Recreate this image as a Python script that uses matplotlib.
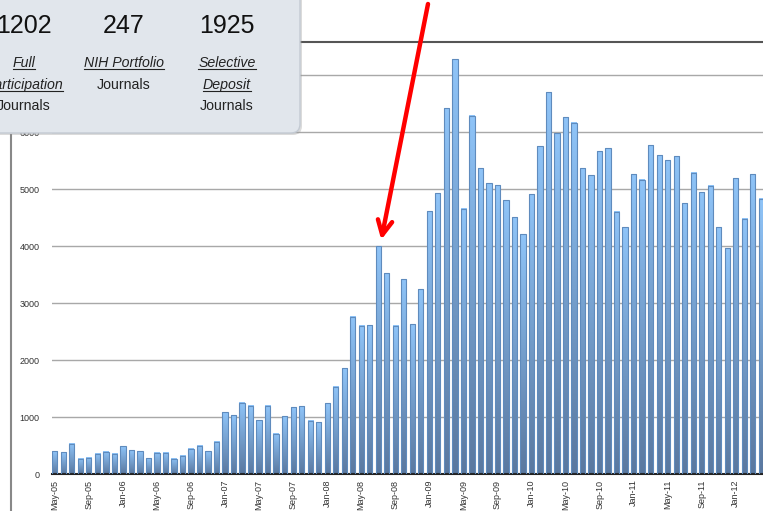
import matplotlib
matplotlib.use('Agg')
import matplotlib.pyplot as plt
import numpy as np
import pandas as pd
from matplotlib.colors import LinearSegmentedColormap
from matplotlib.patches import FancyBboxPatch
from matplotlib.lines import Line2D
from matplotlib.transforms import IdentityTransform

plt.rcParams['font.family'] = ['Liberation Sans', 'DejaVu Sans']

# monthly counts, May-05 .. Apr-12
months = pd.period_range('2005-05', '2012-04', freq='M').strftime('%b-%y').tolist()
counts = [
    400, 382, 535, 265, 282, 353, 388, 353,
    488, 418, 400, 276, 370, 370, 265, 318, 441, 494, 400, 565,
    1085, 1035, 1250, 1200, 942, 1196, 710, 1015, 1167, 1185, 938, 909,
    1243, 1531, 1853, 2762, 2598, 2610, 3994, 3525, 2598, 3413, 2628, 3245,
    4610, 4930, 6421, 7281, 4650, 6287, 5363, 5099, 5070, 4801, 4509, 4205,
    4906, 5754, 6696, 5977, 6257, 6164, 5363, 5240, 5661, 5713, 4602, 4327,
    5257, 5164, 5766, 5591, 5509, 5573, 4754, 5287, 4947, 5058, 4327, 3965,
    5193, 4480, 5257, 4830,
]
yticks = [0, 1000, 2000, 3000, 4000, 5000, 6000, 7000]

totals = ['1202', '247', '1925']
links = [['Full', 'Participation'], ['NIH Portfolio'], ['Selective', 'Deposit']]

W, H = 763, 511
fig = plt.figure(figsize=(W / 100, H / 100), dpi=100)
ax = fig.add_axes([52 / W, (H - 474) / H, 1 - 52 / W, (474 - 42) / H])

cmap = LinearSegmentedColormap.from_list('bar', ['#5a789f', '#8fc4f8'])
grad = np.linspace(1, 0, 128).reshape(-1, 1)
bw = 0.62
x = np.arange(len(counts))
for xi, v in zip(x, counts):
    ax.imshow(grad, extent=[xi - bw / 2, xi + bw / 2, 0, v], aspect='auto',
              cmap=cmap, interpolation='bilinear', zorder=2)
ax.bar(x, counts, width=bw, facecolor='none', edgecolor='#5f8bbd',
       linewidth=0.8, zorder=3)

ax.set_xlim(-0.33, 83.2)
ax.set_ylim(0, 7580)
ax.set_yticks(yticks)
ax.set_yticklabels([str(t) for t in yticks], fontsize=6.5, color='#333333')
ax.set_xticks(x[::4])
ax.set_xticklabels(months[::4], rotation=90, fontsize=6.5, color='#333333')
ax.tick_params(axis='both', length=0)
ax.tick_params(axis='y', pad=9)
ax.tick_params(axis='x', pad=4)
ax.grid(axis='y', color='#a8a8a8', linewidth=1)
ax.set_axisbelow(True)
for s in ['left', 'right']:
    ax.spines[s].set_visible(False)
ax.spines['bottom'].set_color('#222222')
ax.spines['bottom'].set_linewidth(1.5)
ax.spines['top'].set_color('#555555')
ax.spines['top'].set_linewidth(1.5)

# frame line on the left
fig.add_artist(Line2D([11, 11], [0, H - 135], color='#888888', linewidth=1.5,
                      transform=IdentityTransform()))

# red arrow to Jul-08
ax.annotate('', xy=(38.35, 4110), xycoords='data',
            xytext=(428, H - 4), textcoords='figure pixels',
            arrowprops=dict(arrowstyle='->,head_length=0.4,head_width=0.2',
                            color='#ff0000', linewidth=3.2, mutation_scale=26,
                            shrinkA=0, shrinkB=0),
            annotation_clip=False)

# summary box
idt = IdentityTransform()
shadow = FancyBboxPatch((-30 + 2, H - 133 - 2), 330, 160,
                        boxstyle='round,pad=0,rounding_size=9',
                        facecolor='#999999', alpha=0.35, edgecolor='none',
                        transform=idt, zorder=5)
box = FancyBboxPatch((-30, H - 133), 330, 160,
                     boxstyle='round,pad=0,rounding_size=9',
                     facecolor='#e1e6ec', edgecolor='#c3cad3', linewidth=1,
                     transform=idt, zorder=6)
fig.add_artist(shadow)
fig.add_artist(box)

cols = [24, 124, 227]
under = []
for cx, num, words in zip(cols, totals, links):
    fig.text(cx, H - 33, num, ha='center', va='baseline', fontsize=18,
             color='#111111', transform=idt, zorder=7)
    base = 67
    for w in words:
        t = fig.text(cx, H - base, w, ha='center', va='baseline', fontsize=10.2,
                     style='italic', color='#222222', transform=idt, zorder=7)
        under.append((t, base))
        base += 21.5
    fig.text(cx, H - base, 'Journals', ha='center', va='baseline', fontsize=10.2,
             color='#222222', transform=idt, zorder=7)

fig.canvas.draw()
rend = fig.canvas.get_renderer()
for t, base in under:
    bb = t.get_window_extent(rend)
    yy = H - base - 2
    fig.add_artist(Line2D([bb.x0, bb.x1], [yy, yy], color='#222222',
                          linewidth=0.8, transform=idt, zorder=7))

fig.savefig('out.png', dpi=100)
